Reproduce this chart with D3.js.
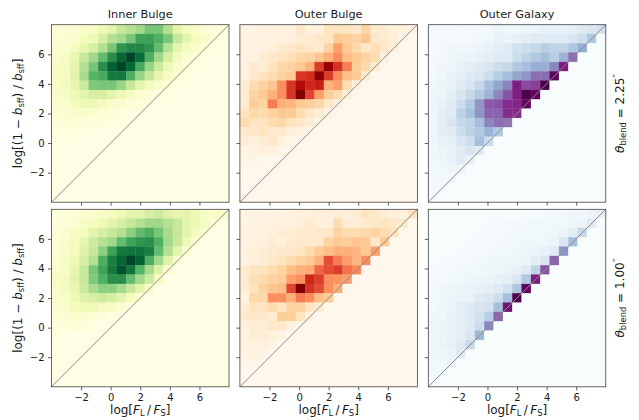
<!DOCTYPE html>
<html>
<head>
<meta charset="utf-8">
<script src="https://cdn.jsdelivr.net/npm/d3@7"></script>
<style>
  body { margin: 0; background: #fff; }
  text { font-family: "DejaVu Sans", sans-serif; fill: #1a1a1a; }
</style>
</head>
<body>
<svg id="fig" width="639" height="420"></svg>
<script>
// Panel layout: columns are galaxy regions, rows are blend radii.
const columns = ["Inner Bulge", "Outer Bulge", "Outer Galaxy"];
const blendRadii = ["2.25", "1.00"];
const xTicks = [-2, 0, 2, 4, 6];
const yTicks = [-2, 0, 2, 4, 6];
const extent = [-4, 8];
const nBins = 19;

// 2D histograms of log[(1-b_sff)/b_sff] against log[F_L/F_S], as percent of
// each panel's peak. Rows run from the top bin down; columns from the left.
// Cells past the end of a row are empty.
const innerBulgeWide = [
  [3,5,5,8,10,15,20,30,35,40,50,50,35,20,12,8,5,3,2],
  [5,6,8,12,15,25,35,40,50,65,65,60,50,30,20,12,8,4,2],
  [6,8,12,18,25,35,50,70,75,75,70,55,35,20,12,8,4,2],
  [8,10,18,30,40,55,72,88,100,85,60,40,25,12,6,4,2],
  [10,12,20,35,50,72,90,100,88,62,42,28,15,8,4,2],
  [10,12,20,38,58,62,80,80,60,42,30,18,10,5,2],
  [10,12,18,28,48,50,50,42,30,20,12,8,4,2],
  [8,10,15,20,25,25,20,15,10,6,4,2,1],
  [6,8,12,15,15,12,8,6,4,3,2,1],
  [5,6,8,8,6,5,4,3,2,1],
  [4,4,5,4,4,3,2,1],
  [2,3,2,2,1],
  [1,1,1],
  [], [], [], [], [], []
];
const outerBulgeWide = [
  [3,3,4,4,5,5,12,5,4,15,15,15,12,25,10,8,5,5,3],
  [3,3,4,4,5,5,8,10,12,15,30,28,25,32,12,10,8,3],
  [4,4,5,6,10,12,15,12,10,25,45,30,22,12,18,12,5],
  [5,4,8,12,15,18,22,25,32,40,50,35,30,25,20,5],
  [5,10,8,15,22,25,30,40,72,94,75,55,28,22,8],
  [5,12,15,20,25,30,74,76,96,72,50,35,30,8],
  [8,20,25,32,50,74,86,78,80,40,45,20,5],
  [10,25,30,40,50,74,100,70,45,28,20,5],
  [10,28,25,55,40,38,30,28,22,12,5],
  [15,22,20,25,30,30,20,12,8,3],
  [20,15,15,20,22,15,12,8,2],
  [10,12,15,10,10,6,4,1],
  [8,6,8,12,5,2],
  [3,4,6,5,2],
  [2,2],
  [], [], [], []
];
const outerGalaxyWide = [
  [2,2,2,2,2,2,3,6,4,5,6,6,8,8,8,10,12,15,18],
  [2,2,2,2,2,3,5,8,6,8,10,12,12,12,12,15,20,30],
  [2,2,5,3,5,6,8,10,12,18,20,22,28,25,25,32,42],
  [2,3,5,6,6,8,10,12,12,20,25,30,35,28,40,62],
  [2,4,5,8,10,12,15,20,22,30,35,42,42,55,86],
  [3,5,8,10,12,15,20,28,35,45,50,62,62,96],
  [4,6,8,12,15,22,35,45,55,85,72,75,100],
  [5,6,10,15,22,30,40,55,70,85,100,95],
  [5,8,12,20,30,50,68,70,80,82,95],
  [5,10,12,25,35,50,65,65,80,80],
  [5,10,15,22,25,35,55,62,60],
  [5,10,12,20,25,30,40,30],
  [5,8,10,15,20,35,20],
  [4,6,8,12,15,12],
  [3,5,8,12,8],
  [3,4,5,5],
  [2,3,3],
  [2,2],
  [1]
];
const innerBulgeNarrow = [
  [2,3,5,6,8,10,12,15,20,20,25,28,22,18,20,15,10,8,6],
  [3,5,6,10,12,15,20,25,30,35,40,40,35,30,20,15,10,5],
  [4,6,10,12,20,25,30,35,45,55,60,50,38,30,20,12,5],
  [5,8,12,18,28,35,40,55,65,70,72,60,40,30,15,5],
  [5,8,12,22,30,45,65,80,82,82,78,55,35,20,6],
  [6,10,15,25,35,60,78,88,100,90,60,40,22,6],
  [8,10,18,30,50,65,80,95,82,58,38,22,6],
  [10,12,20,30,48,60,72,72,55,40,28,10],
  [8,12,18,28,38,45,45,38,30,20,8],
  [8,10,15,22,25,28,25,20,12,5],
  [6,8,12,14,15,12,10,6,2],
  [5,6,8,6,5,4,2],
  [4,4,4,3,2],
  [2,2],
  [], [], [], [], []
];
const outerBulgeNarrow = [
  [2,3,3,3,4,4,5,5,6,6,8,6,8,15,12,8,6,5,15],
  [3,3,4,5,5,4,6,10,6,5,20,8,8,10,12,15,12,10],
  [3,3,4,6,8,8,10,10,12,12,25,20,20,22,25,20,15],
  [3,4,5,8,6,10,12,10,12,25,30,28,32,30,12,30],
  [5,6,8,10,12,12,15,20,30,35,40,40,38,30,45],
  [4,6,8,12,15,20,25,30,40,68,55,45,38,50],
  [10,15,15,20,25,35,40,42,62,68,72,58,52],
  [10,18,20,25,28,45,50,78,72,50,48,45],
  [8,15,25,32,35,70,100,75,68,50,40],
  [4,22,22,50,50,40,55,50,35,30],
  [8,15,15,20,15,25,25,15,10],
  [10,12,12,10,28,28,15,5],
  [6,8,8,12,12,4,2],
  [5,8,8,5,3],
  [4,5,6,3],
  [3,5,3],
  [2,2],
  [], []
];
const outerGalaxyNarrow = [
  [0,0,0,0,0,0,0,0,0,0,1,1,2,3,3,4,4,6,8],
  [0,0,0,0,0,0,1,1,2,2,2,3,3,4,4,5,6,12],
  [0,0,0,0,0,1,1,2,2,3,3,3,4,5,6,10,22],
  [0,0,0,0,1,1,2,2,3,3,4,4,5,6,15,35],
  [0,0,0,1,1,2,2,3,3,4,5,6,8,12,50],
  [0,1,1,2,2,3,4,4,5,5,6,10,15,65],
  [1,1,2,3,4,4,5,5,6,8,12,25,70],
  [2,2,3,4,5,6,6,8,10,15,30,85],
  [2,3,5,6,7,8,10,12,18,32,95],
  [3,4,6,7,8,12,15,20,35,100],
  [3,5,6,10,12,15,18,35,90],
  [4,5,8,10,12,18,28,65],
  [5,6,8,10,12,20,55],
  [5,6,8,10,15,38],
  [5,6,8,12,22],
  [4,5,6,12],
  [3,4,6],
  [3,3],
  [2]
];

const grids = [
  [innerBulgeWide, outerBulgeWide, outerGalaxyWide],
  [innerBulgeNarrow, outerBulgeNarrow, outerGalaxyNarrow]
];
const colormaps = [d3.interpolateYlGn, d3.interpolateOrRd, d3.interpolateBuPu];

const svg = d3.select("#fig");
const left = 51.5, top0 = 24.7, size = 177.5, hStep = 188.4, vStep = 184.6;
const labelSize = 12, subSize = 8.4;
const edges = d3.range(nBins + 1).map(i => extent[0] + i * (extent[1] - extent[0]) / nBins);
const fmt = d => (d < 0 ? "\u2212" : "") + Math.abs(d);

// small helper: italic symbol followed by a roman subscript
function symbolSub(t, sym, sub) {
  t.append("tspan").attr("font-style", "italic").text(sym);
  t.append("tspan").attr("font-size", subSize).attr("dy", 2.4).text(sub);
  return t.append("tspan").attr("dy", -2.4);
}

grids.forEach((row, ri) => row.forEach((grid, ci) => {
  const x0 = left + ci * hStep, y0 = top0 + ri * vStep;
  const xs = d3.scaleLinear().domain(extent).range([x0, x0 + size]);
  const ys = d3.scaleLinear().domain(extent).range([y0 + size, y0]);
  const cmap = colormaps[ci];
  const g = svg.append("g");

  const cells = [];
  grid.forEach((vals, r) => {
    for (let c = 0; c < nBins; c++) {
      cells.push({ xb: c, yb: nBins - 1 - r, v: (vals[c] || 0) / 100 });
    }
  });
  g.selectAll("rect.cell").data(cells).join("rect")
    .attr("class", "cell")
    .attr("x", d => xs(edges[d.xb]))
    .attr("y", d => ys(edges[d.yb + 1]))
    .attr("width", d => xs(edges[d.xb + 1]) - xs(edges[d.xb]))
    .attr("height", d => ys(edges[d.yb]) - ys(edges[d.yb + 1]))
    .attr("fill", d => cmap(d.v))
    .attr("stroke", d => cmap(d.v))
    .attr("stroke-width", 0.35);

  // one-to-one line
  g.append("line")
    .attr("x1", xs(extent[0])).attr("y1", ys(extent[0]))
    .attr("x2", xs(extent[1])).attr("y2", ys(extent[1]))
    .attr("stroke", "#8a8a8a").attr("stroke-width", 1);

  const xAxis = g.append("g").attr("transform", `translate(0,${y0 + size})`)
    .call(d3.axisBottom(xs).tickValues(xTicks).tickSize(3.5).tickPadding(3.5)
      .tickFormat(ri === 1 ? fmt : () => ""));
  const yAxis = g.append("g").attr("transform", `translate(${x0},0)`)
    .call(d3.axisLeft(ys).tickValues(yTicks).tickSize(3.5).tickPadding(3.5)
      .tickFormat(ci === 0 ? fmt : () => ""));
  [xAxis, yAxis].forEach(a => {
    a.select(".domain").remove();
    a.selectAll(".tick line").attr("stroke", "#333").attr("stroke-width", 0.8);
    a.selectAll(".tick text").attr("font-size", 10).attr("fill", "#1a1a1a")
      .attr("font-family", "DejaVu Sans, sans-serif");
  });

  g.append("rect")
    .attr("x", x0).attr("y", y0).attr("width", size).attr("height", size)
    .attr("fill", "none").attr("stroke", "#444").attr("stroke-width", 0.8);

  if (ri === 0) {
    g.append("text").attr("x", x0 + size / 2).attr("y", 17.5)
      .attr("text-anchor", "middle").attr("font-size", 11.3).text(columns[ci]);
  }
  if (ri === 1) {
    const t = g.append("text").attr("x", x0 + size / 2).attr("y", 414)
      .attr("text-anchor", "middle").attr("font-size", labelSize);
    t.append("tspan").text("log[");
    symbolSub(t, "F", "L").text("\u2009/\u2009");
    symbolSub(t, "F", "S").text("]");
  }
  if (ci === 0) {
    const cy = y0 + size / 2;
    const t = g.append("text").attr("transform", `translate(22,${cy}) rotate(-90)`)
      .attr("text-anchor", "middle").attr("font-size", labelSize);
    t.append("tspan").text("log[(1 \u2212 ");
    symbolSub(t, "b", "sff").text(") / ");
    symbolSub(t, "b", "sff").text("]");
  }
  if (ci === 2) {
    const cy = y0 + size / 2;
    const t = g.append("text").attr("transform", `translate(624,${cy}) rotate(-90)`)
      .attr("text-anchor", "middle").attr("font-size", labelSize);
    symbolSub(t, "\u03b8", "blend").text(" = " + blendRadii[ri]);
    t.append("tspan").attr("font-size", 10).attr("dy", -3).text("\u2033");
  }
}));
</script>
</body>
</html>
